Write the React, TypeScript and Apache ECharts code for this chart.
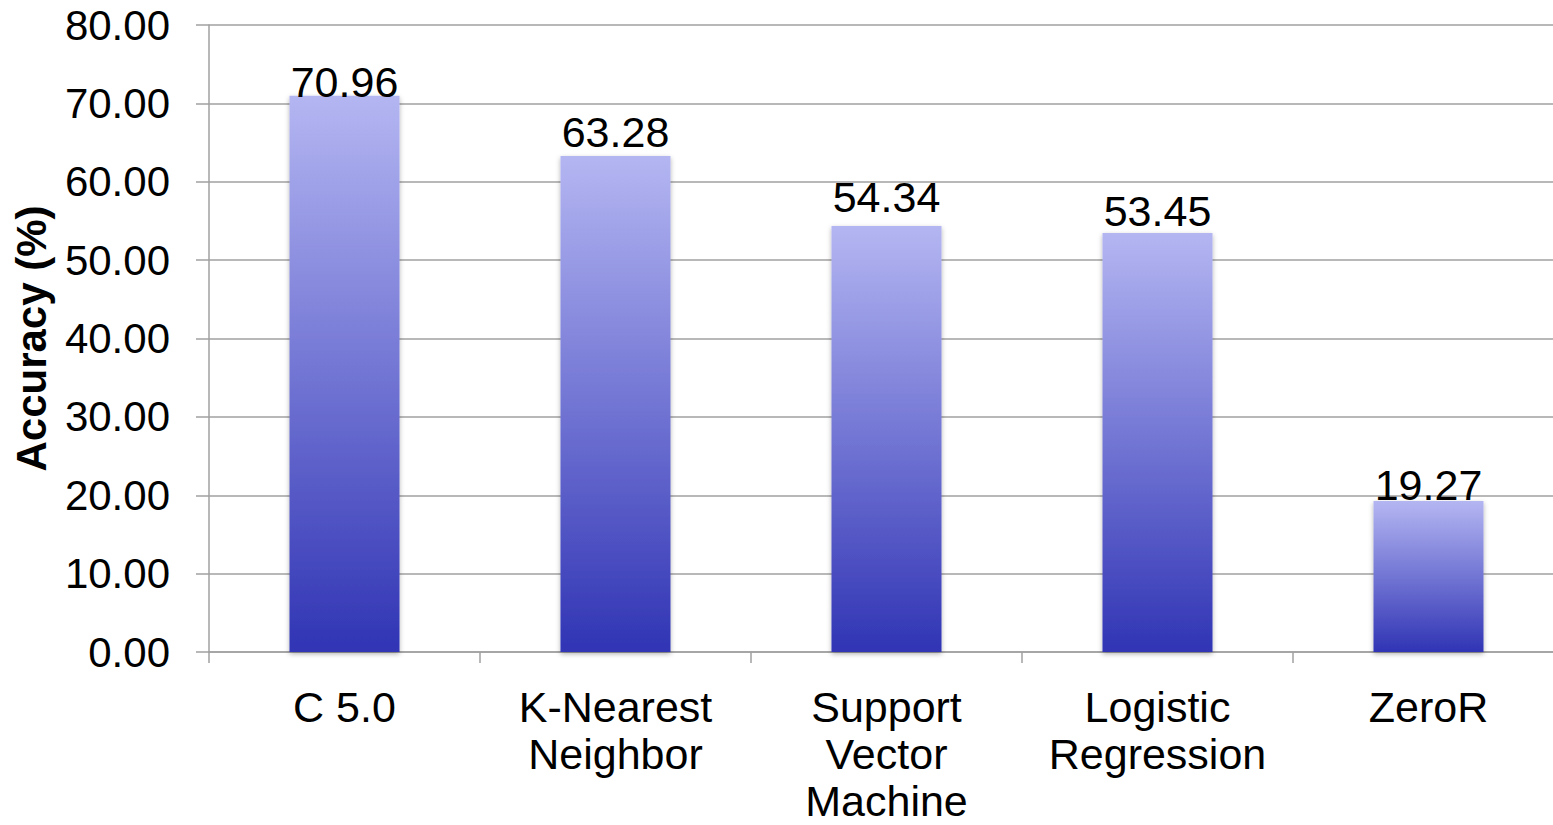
import React, { useEffect, useRef } from "react";
import * as echarts from "echarts";

const categories = ["C 5.0", "K-Nearest\nNeighbor", "Support\nVector\nMachine", "Logistic\nRegression", "ZeroR"];
const accuracy = [70.96, 63.28, 54.34, 53.45, 19.27];
const yAxisName = "Accuracy (%)";

// per-label gap above each bar (style only, as placed in the original)
const labelDistances = [-8, 3, 8, 1, -6];

export default function App() {
  const ref = useRef<HTMLDivElement>(null);
  useEffect(() => {
    if (!ref.current) return;
    const chart = echarts.init(ref.current, undefined, { renderer: "svg" });
    const font = "'Liberation Sans', Arial, Helvetica, sans-serif";
    const seriesData = accuracy.map((v, i) => ({ value: v, label: { distance: labelDistances[i] } }));
    chart.setOption({
      animation: false,
      backgroundColor: "#ffffff",
      grid: { left: 209, top: 25, bottom: 173, width: 1355, containLabel: false, outerBoundsMode: "none" },
      xAxis: {
        type: "category",
        data: categories,
        axisLine: { show: true, lineStyle: { color: "#a0a0a0", width: 1.5 } },
        axisTick: { show: true, alignWithLabel: false, length: 11, lineStyle: { color: "#a0a0a0", width: 1.5 } },
        axisLabel: { color: "#000", fontSize: 43, fontFamily: font, lineHeight: 47, margin: 31, interval: 0 },
        splitLine: { show: false },
      },
      yAxis: {
        type: "value",
        min: 0,
        max: 80,
        interval: 10,
        name: yAxisName,
        nameLocation: "middle",
        nameRotate: 90,
        nameGap: 157,
        nameTextStyle: { color: "#000", fontSize: 42, fontWeight: "bold", fontFamily: font },
        axisLine: { show: true, lineStyle: { color: "#a0a0a0", width: 1.5 } },
        axisTick: { show: true, length: 13, lineStyle: { color: "#a0a0a0", width: 1.5 } },
        axisLabel: { color: "#000", fontSize: 42, fontFamily: font, margin: 39, formatter: (v: number) => v.toFixed(2) },
        splitLine: { show: true, lineStyle: { color: "#a0a0a0", width: 1.5 } },
      },
      series: [
        {
          type: "bar",
          data: seriesData,
          barWidth: 110,
          itemStyle: {
            color: new echarts.graphic.LinearGradient(0, 0, 0, 1, [
              { offset: 0, color: "#b4b6f2" },
              { offset: 1, color: "#3034b4" },
            ]),
            shadowBlur: 5,
            shadowColor: "rgba(0,0,0,0.3)",
            shadowOffsetY: 2,
          },
          label: {
            show: true,
            position: "top",
            distance: -8,
            color: "#000",
            fontSize: 43,
            fontFamily: font,
            formatter: (p: any) => Number(p.value).toFixed(2),
          },
        },
      ],
    });
    return () => chart.dispose();
  }, []);
  return (
    <div
      ref={ref}
      style={{ position: "fixed", left: 0, top: 0, width: 1553, height: 825, background: "#fff" }}
    />
  );
}
